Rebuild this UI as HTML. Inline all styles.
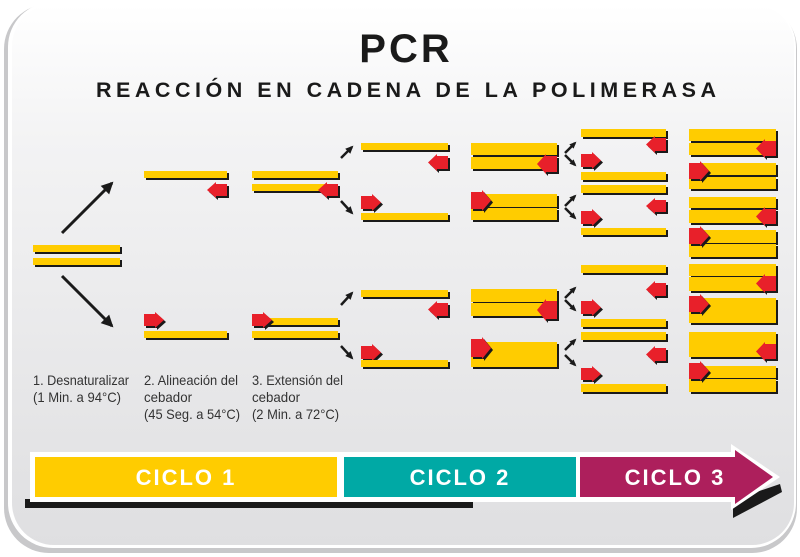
<!DOCTYPE html>
<html><head><meta charset="utf-8">
<style>
html,body{margin:0;padding:0;background:#fff;}
svg{display:block;}
text{font-family:"Liberation Sans",Arial,sans-serif;}
</style></head>
<body>
<svg id="s" width="800" height="557" viewBox="0 0 800 557" xmlns="http://www.w3.org/2000/svg">
<defs>
<linearGradient id="bg" x1="0" y1="0" x2="0" y2="1">
<stop offset="0" stop-color="#ffffff"/>
<stop offset="0.25" stop-color="#f3f3f4"/>
<stop offset="1" stop-color="#dfdfe1"/>
</linearGradient>
</defs>
<rect x="4" y="4" width="793" height="549" rx="45" fill="#c8c8ca"/>
<rect x="8" y="2" width="788" height="546" rx="45" fill="#fff"/>
<rect x="12" y="4" width="782" height="541" rx="42" fill="url(#bg)"/>
<text x="406" y="62" text-anchor="middle" font-size="40" font-weight="bold" fill="#1a1a1a" letter-spacing="3">PCR</text>
<text x="406" y="97" text-anchor="middle" font-size="21.5" font-weight="bold" fill="#1a1a1a" textLength="620" lengthAdjust="spacing">REACCIÓN EN CADENA DE LA POLIMERASA</text>
<g id="g"></g>
<g font-size="14" fill="#333">
<text x="33" y="385" textLength="96" lengthAdjust="spacingAndGlyphs">1. Desnaturalizar</text>
<text x="33" y="402" textLength="88" lengthAdjust="spacingAndGlyphs">(1 Min. a 94°C)</text>
<text x="144" y="385" textLength="94" lengthAdjust="spacingAndGlyphs">2. Alineación del</text>
<text x="144" y="402" textLength="48" lengthAdjust="spacingAndGlyphs">cebador</text>
<text x="144" y="419" textLength="96" lengthAdjust="spacingAndGlyphs">(45 Seg. a 54°C)</text>
<text x="252" y="385" textLength="91" lengthAdjust="spacingAndGlyphs">3. Extensión del</text>
<text x="252" y="402" textLength="48" lengthAdjust="spacingAndGlyphs">cebador</text>
<text x="252" y="419" textLength="87" lengthAdjust="spacingAndGlyphs">(2 Min. a 72°C)</text>
</g>
<!-- bottom bar -->
<rect x="25" y="499" width="448" height="9" fill="#1a1a1a"/>
<polygon points="733,500 780,484 782,492 733,518" fill="#1a1a1a"/>
<polygon points="30,452 731,452 731,444 780,477 731,510 731,502 30,502" fill="#fff"/>
<rect x="35" y="457" width="302" height="40" fill="#ffcc00"/>
<rect x="344" y="457" width="232" height="40" fill="#00a9a5"/>
<polygon points="580,457 735,457 735,450 773,477 735,504 735,497 580,497" fill="#ad1f5c"/>
<g font-size="22" font-weight="bold" fill="#fff" letter-spacing="2">
<text x="186" y="485" text-anchor="middle">CICLO 1</text>
<text x="460" y="485" text-anchor="middle">CICLO 2</text>
<text x="675" y="485" text-anchor="middle">CICLO 3</text>
</g>
</svg>
<script>
var g=document.getElementById('g'),N='http://www.w3.org/2000/svg';
function el(t,a){var e=document.createElementNS(N,t);for(var k in a)e.setAttribute(k,a[k]);g.appendChild(e);return e;}
function S(x1,x2,y1,y2){el('rect',{x:x1+2,y:y1+2,width:x2-x1,height:y2-y1,fill:'#1a1a1a'});el('rect',{x:x1,y:y1,width:x2-x1,height:y2-y1,fill:'#ffcc00'});}
function R(x,y1,y2){y1-=1;y2+=1;var m=(y1+y2)/2;var p=[x,y1+2,x+11,y1+2,x+11,y1,x+20,m,x+11,y2,x+11,y2-2,x,y2-2].join(' ');el('polygon',{points:p,fill:'#1a1a1a',transform:'translate(2,2)'});el('polygon',{points:p,fill:'#e8202a'});}
function L(x2,y1,y2){y1-=1;y2+=1;var m=(y1+y2)/2,x=x2-20;var p=[x2,y1+2,x+9,y1+2,x+9,y1,x,m,x+9,y2,x+9,y2-2,x2,y2-2].join(' ');el('polygon',{points:p,fill:'#1a1a1a',transform:'translate(2,2)'});el('polygon',{points:p,fill:'#e8202a'});}
function A(x1,y1,x2,y2,w,hl){el('line',{x1:x1,y1:y1,x2:x2,y2:y2,stroke:'#1a1a1a','stroke-width':w});var dx=x2-x1,dy=y2-y1,l=Math.hypot(dx,dy),ux=dx/l,uy=dy/l;var bx=x2-ux*hl,by=y2-uy*hl;el('polygon',{points:[x2+ux*2,y2+uy*2,bx-uy*hl*0.6,by+ux*hl*0.6,bx+uy*hl*0.6,by-ux*hl*0.6].join(' '),fill:'#1a1a1a'});}
S(33,120,245,252);S(33,120,258,265);
A(62,233,112,183,3,10);A(62,276,112,326,3,10);
S(144,227,171,178);L(227,183,197);
R(144,313,327);S(144,227,331,338);
S(252,338,171,178);S(252,338,184,191);L(338,183,197);
S(252,338,318,325);S(252,338,331,338);R(252,313,327);
A(341,158,352,147,2.5,6);A(341,201,352,213,2.5,6);
A(341,305,352,293,2.5,6);A(341,346,352,358,2.5,6);
S(361,448,143,150);L(448,155,170);R(361,195,210);S(361,448,213,220);
S(361,448,290,297);L(448,302,317);R(361,345,360);S(361,448,360,367);
S(471,557,143,155);S(471,557,157,169);L(557,155,173);
S(471,557,194,207);S(471,557,208,220);R(471,191,210);
S(471,557,289,302);S(471,557,303,316);L(557,300,320);
S(471,557,342,367);R(471,338,358);
[[143,165],[196,218],[288,310],[340,365]].forEach(function(p){A(565,p[0]+10,575,p[0],2.5,5);A(565,p[1]-10,575,p[1],2.5,5);});
S(581,666,129,137);L(666,137,152);R(581,153,168);S(581,666,172,180);
S(581,666,185,193);L(666,199,213);R(581,210,225);S(581,666,228,235);
S(581,666,265,273);L(666,282,297);R(581,300,315);S(581,666,319,327);
S(581,666,332,340);L(666,347,362);R(581,367,381);S(581,666,384,392);
[[129,141],[143,155],[163,175],[177,189],[197,208],[210,223],[230,243],[244,257],[264,276],[277,291],[298,323],[332,357],[366,378],[379,392]].forEach(function(p){S(689,776,p[0],p[1]);});
L(776,140,157);R(689,162,180);L(776,208,225);R(689,227,245);L(776,275,292);R(689,295,313);L(776,343,360);R(689,362,380);
</script>
</body></html>
